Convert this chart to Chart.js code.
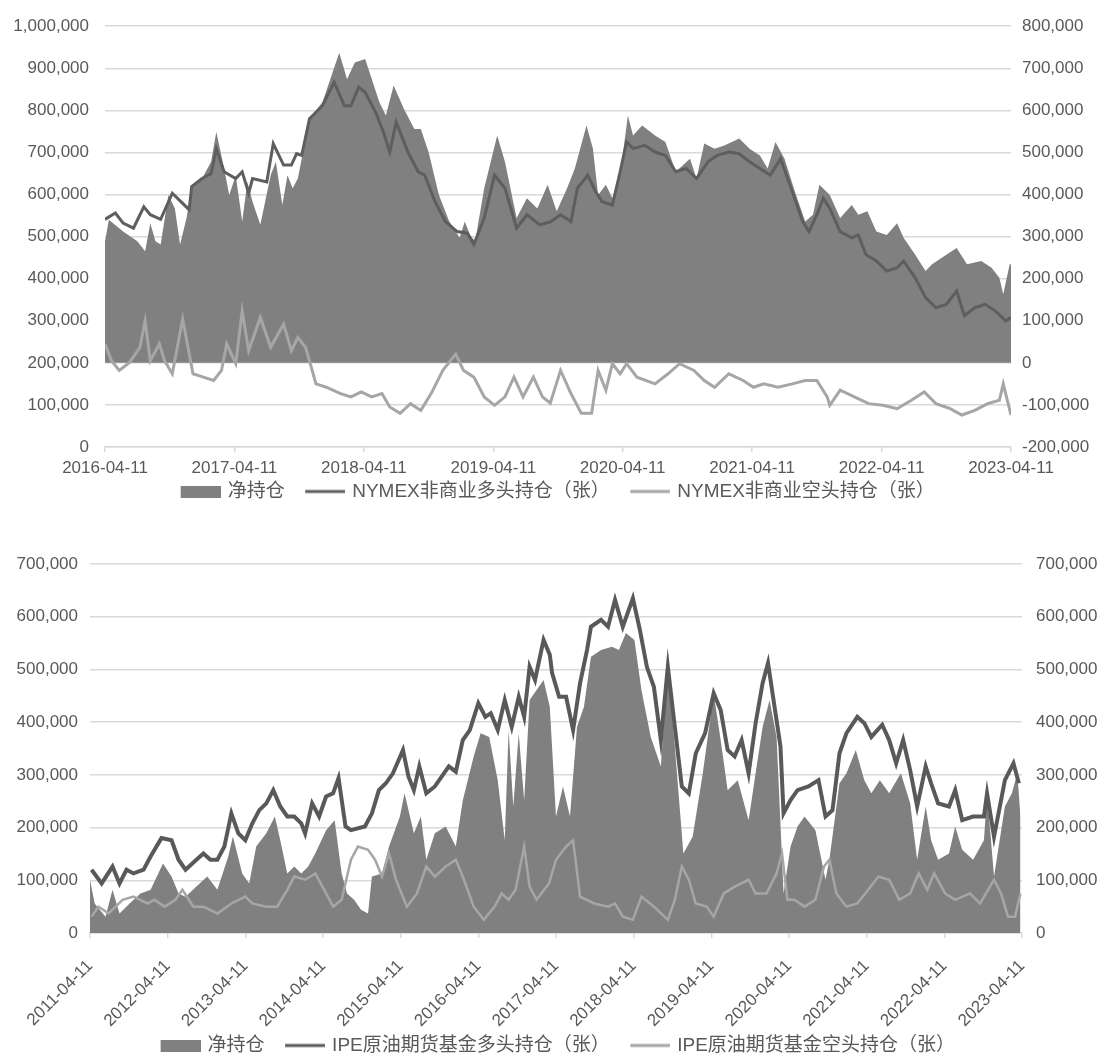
<!DOCTYPE html>
<html>
<head>
<meta charset="utf-8">
<script src="https://cdn.jsdelivr.net/npm/chart.js@4.4.1/dist/chart.umd.min.js"></script>
<style>
  html, body { margin: 0; padding: 0; background: #ffffff; }
  #wrap { position: relative; width: 1099px; height: 1061px; overflow: hidden; }
  canvas { position: absolute; left: 0; }
  #nymex { top: 0; }
  #ipe { top: 535px; }
</style>
</head>
<body>
<div id="wrap">
  <canvas id="nymex" width="1099" height="516" style="width:1099px;height:516px"></canvas>
  <canvas id="ipe" width="1099" height="533" style="width:1099px;height:533px"></canvas>
</div>
<script>
// ---------- NYMEX: x = years since 2016-04-11, y = contracts ----------
const nymexTicks = ['2016-04-11', '2017-04-11', '2018-04-11', '2019-04-11',
                    '2020-04-11', '2021-04-11', '2022-04-11', '2023-04-11'];

const nymexNet = [
  [0,289000],[0.03,340000],[0.14,312000],[0.25,289000],[0.31,265000],[0.35,332000],[0.39,289000],
  [0.43,281000],[0.49,399000],[0.54,367000],[0.58,281000],[0.63,344000],[0.67,415000],[0.75,438000],
  [0.82,478000],[0.86,549000],[0.92,462000],[0.96,399000],[1.01,446000],[1.06,336000],[1.10,430000],
  [1.14,383000],[1.20,328000],[1.28,446000],[1.32,478000],[1.37,375000],[1.41,446000],[1.45,415000],
  [1.49,438000],[1.58,580000],[1.68,619000],[1.81,737000],[1.87,674000],[1.93,714000],[2.01,722000],
  [2.12,619000],[2.17,588000],[2.23,659000],[2.31,603000],[2.39,556000],[2.44,556000],[2.50,501000],
  [2.58,399000],[2.66,336000],[2.74,297000],[2.78,336000],[2.82,304000],[2.86,289000],[2.93,415000],
  [3.03,540000],[3.09,478000],[3.18,344000],[3.26,391000],[3.34,367000],[3.42,423000],[3.49,360000],
  [3.57,415000],[3.63,462000],[3.72,564000],[3.77,509000],[3.81,399000],[3.87,423000],[3.92,391000],
  [3.98,446000],[4.04,588000],[4.08,540000],[4.15,564000],[4.25,540000],[4.33,525000],[4.41,454000],
  [4.52,485000],[4.57,438000],[4.63,521000],[4.71,509000],[4.79,517000],[4.90,533000],[4.98,509000],
  [5.06,493000],[5.12,462000],[5.18,525000],[5.25,485000],[5.33,407000],[5.41,336000],[5.47,352000],
  [5.52,423000],[5.60,399000],[5.68,344000],[5.77,375000],[5.82,352000],[5.89,360000],[5.96,312000],
  [6.04,304000],[6.12,332000],[6.17,297000],[6.26,257000],[6.34,218000],[6.39,234000],[6.50,257000],
  [6.58,273000],[6.66,234000],[6.77,242000],[6.85,226000],[6.91,202000],[6.94,163000],[6.99,234000],
  [7.00,234000]
];

const nymexLong = [
  [0,541000],[0.08,556000],[0.14,532000],[0.22,520000],[0.30,571000],[0.35,552000],[0.43,541000],
  [0.52,603000],[0.60,579000],[0.65,564000],[0.67,619000],[0.75,638000],[0.82,650000],[0.86,709000],
  [0.92,654000],[1.01,638000],[1.06,654000],[1.11,603000],[1.14,638000],[1.25,630000],[1.30,721000],
  [1.38,670000],[1.44,670000],[1.48,697000],[1.52,693000],[1.58,780000],[1.68,811000],[1.77,867000],
  [1.85,811000],[1.90,811000],[1.96,855000],[2.01,843000],[2.09,796000],[2.15,749000],[2.20,701000],
  [2.25,772000],[2.34,701000],[2.42,654000],[2.47,646000],[2.55,583000],[2.63,536000],[2.72,512000],
  [2.80,508000],[2.85,481000],[2.93,544000],[3.01,646000],[3.09,615000],[3.18,520000],[3.26,552000],
  [3.36,528000],[3.44,535000],[3.52,552000],[3.60,536000],[3.65,615000],[3.73,646000],[3.79,607000],
  [3.84,583000],[3.92,575000],[3.98,654000],[4.03,725000],[4.08,709000],[4.17,717000],[4.25,701000],
  [4.33,693000],[4.41,654000],[4.49,662000],[4.57,638000],[4.66,678000],[4.73,693000],[4.82,701000],
  [4.90,697000],[4.98,678000],[5.06,662000],[5.14,646000],[5.22,685000],[5.31,607000],[5.39,536000],
  [5.44,512000],[5.50,552000],[5.55,591000],[5.60,567000],[5.68,512000],[5.77,497000],[5.82,504000],
  [5.88,457000],[5.96,442000],[6.04,418000],[6.12,426000],[6.17,442000],[6.26,402000],[6.34,355000],
  [6.42,331000],[6.50,339000],[6.58,371000],[6.64,312000],[6.72,331000],[6.80,339000],[6.88,323000],
  [6.96,300000],[7.00,308000]
];

const nymexShort = [
  [0,245000],[0.05,205000],[0.11,182000],[0.19,201000],[0.27,237000],[0.31,300000],[0.35,205000],
  [0.42,245000],[0.46,205000],[0.52,174000],[0.60,304000],[0.68,174000],[0.76,166000],[0.84,158000],
  [0.90,182000],[0.94,245000],[1.01,198000],[1.06,323000],[1.11,229000],[1.20,308000],[1.28,237000],
  [1.38,292000],[1.44,229000],[1.49,260000],[1.55,237000],[1.63,150000],[1.71,142000],[1.82,127000],
  [1.90,119000],[1.98,131000],[2.06,119000],[2.14,127000],[2.20,95000],[2.28,80000],[2.36,103000],
  [2.44,87000],[2.52,127000],[2.61,182000],[2.71,221000],[2.77,182000],[2.85,166000],[2.93,119000],
  [3.01,99000],[3.09,119000],[3.16,166000],[3.23,119000],[3.31,166000],[3.38,119000],[3.44,104000],
  [3.52,182000],[3.60,127000],[3.68,80000],[3.76,80000],[3.81,182000],[3.87,135000],[3.92,198000],
  [3.98,174000],[4.03,198000],[4.11,166000],[4.25,150000],[4.35,174000],[4.44,198000],[4.55,182000],
  [4.63,158000],[4.71,142000],[4.82,174000],[4.93,158000],[5.01,142000],[5.09,150000],[5.20,142000],
  [5.31,150000],[5.41,158000],[5.50,158000],[5.58,119000],[5.60,99000],[5.68,135000],[5.79,119000],
  [5.90,103000],[6.01,99000],[6.12,91000],[6.23,111000],[6.33,131000],[6.42,103000],[6.53,91000],
  [6.62,76000],[6.72,87000],[6.82,103000],[6.91,111000],[6.94,150000],[7.00,76000]
];

// ---------- IPE: x = years since 2011-04-11, y = contracts ----------
const ipeTicks = ['2011-04-11', '2012-04-11', '2013-04-11', '2014-04-11', '2015-04-11',
                  '2016-04-11', '2017-04-11', '2018-04-11', '2019-04-11', '2020-04-11',
                  '2021-04-11', '2022-04-11', '2023-04-11'];

const ipeNet = [
  [0,101000],[0.06,56000],[0.20,31000],[0.29,82000],[0.38,37000],[0.51,56000],[0.65,75000],
  [0.78,82000],[0.94,132000],[1.05,107000],[1.14,75000],[1.23,69000],[1.37,88000],[1.51,107000],
  [1.64,82000],[1.78,145000],[1.84,183000],[1.96,113000],[2.05,94000],[2.14,164000],[2.27,189000],
  [2.38,221000],[2.45,176000],[2.54,113000],[2.63,126000],[2.72,113000],[2.81,126000],[2.90,151000],
  [3.04,195000],[3.15,214000],[3.24,113000],[3.31,75000],[3.40,63000],[3.49,44000],[3.58,37000],
  [3.63,107000],[3.76,113000],[3.85,164000],[3.99,221000],[4.05,265000],[4.17,189000],[4.26,221000],
  [4.33,139000],[4.44,189000],[4.58,202000],[4.71,164000],[4.80,252000],[4.94,335000],[5.03,379000],
  [5.14,372000],[5.25,290000],[5.34,176000],[5.39,385000],[5.45,240000],[5.52,379000],[5.59,252000],
  [5.66,442000],[5.75,461000],[5.84,480000],[5.92,429000],[6.00,221000],[6.09,278000],[6.18,221000],
  [6.27,391000],[6.36,429000],[6.45,524000],[6.58,537000],[6.72,543000],[6.81,537000],[6.90,569000],
  [7.01,556000],[7.10,461000],[7.22,372000],[7.35,316000],[7.44,505000],[7.53,354000],[7.64,151000],
  [7.76,183000],[7.89,303000],[8.03,455000],[8.12,366000],[8.21,271000],[8.34,290000],[8.48,214000],
  [8.57,303000],[8.66,391000],[8.75,442000],[8.84,372000],[8.93,75000],[9.02,164000],[9.11,202000],
  [9.20,221000],[9.34,195000],[9.47,101000],[9.52,139000],[9.65,284000],[9.74,303000],[9.86,347000],
  [9.97,290000],[10.06,265000],[10.17,290000],[10.29,265000],[10.44,303000],[10.56,246000],
  [10.65,139000],[10.76,240000],[10.83,176000],[10.92,139000],[11.06,151000],[11.14,202000],
  [11.23,158000],[11.37,139000],[11.51,176000],[11.55,265000],[11.64,107000],[11.78,240000],
  [11.87,265000],[11.94,303000],[11.98,221000]
];

const ipeLong = [
  [0.02,120000],[0.15,94000],[0.29,126000],[0.38,94000],[0.47,120000],[0.56,113000],[0.69,120000],
  [0.78,145000],[0.92,180000],[1.05,176000],[1.14,139000],[1.23,120000],[1.37,139000],[1.46,151000],
  [1.55,139000],[1.64,139000],[1.73,164000],[1.82,227000],[1.91,189000],[2.00,176000],[2.09,208000],
  [2.18,233000],[2.27,246000],[2.36,271000],[2.45,240000],[2.54,221000],[2.63,221000],[2.72,208000],
  [2.77,189000],[2.86,246000],[2.95,221000],[3.04,259000],[3.13,265000],[3.20,294000],[3.29,202000],
  [3.36,195000],[3.54,202000],[3.63,227000],[3.72,271000],[3.81,284000],[3.90,303000],[4.03,347000],
  [4.10,297000],[4.17,271000],[4.24,316000],[4.33,265000],[4.44,278000],[4.53,297000],[4.62,316000],
  [4.71,306000],[4.80,366000],[4.89,385000],[5.00,436000],[5.09,410000],[5.16,417000],[5.25,385000],
  [5.34,442000],[5.43,391000],[5.52,448000],[5.59,410000],[5.66,505000],[5.73,480000],[5.84,556000],
  [5.92,528000],[5.95,493000],[6.04,448000],[6.13,448000],[6.22,385000],[6.31,474000],[6.40,537000],
  [6.45,581000],[6.58,594000],[6.67,581000],[6.76,632000],[6.86,581000],[6.99,635000],[7.08,575000],
  [7.17,505000],[7.26,467000],[7.35,366000],[7.44,505000],[7.53,391000],[7.62,278000],[7.71,265000],
  [7.80,341000],[7.92,379000],[8.03,455000],[8.12,423000],[8.21,347000],[8.30,335000],[8.39,366000],
  [8.48,303000],[8.57,398000],[8.66,474000],[8.73,512000],[8.82,423000],[8.89,354000],[8.93,227000],
  [9.02,252000],[9.11,271000],[9.25,278000],[9.38,290000],[9.47,221000],[9.56,233000],[9.65,341000],
  [9.74,379000],[9.88,410000],[9.97,398000],[10.06,372000],[10.20,395000],[10.29,366000],
  [10.38,322000],[10.47,366000],[10.56,309000],[10.65,240000],[10.76,316000],[10.83,284000],
  [10.92,246000],[11.06,240000],[11.14,271000],[11.23,214000],[11.37,221000],[11.51,221000],
  [11.55,265000],[11.64,183000],[11.78,290000],[11.89,322000],[11.96,284000]
];

const ipeShort = [
  [0.02,31000],[0.11,50000],[0.24,37000],[0.42,63000],[0.56,69000],[0.74,56000],[0.83,63000],
  [0.96,50000],[1.10,63000],[1.19,82000],[1.33,50000],[1.46,50000],[1.64,37000],[1.82,56000],
  [2.00,69000],[2.09,56000],[2.27,50000],[2.41,50000],[2.54,82000],[2.63,107000],[2.77,101000],
  [2.90,113000],[3.04,75000],[3.13,50000],[3.24,63000],[3.36,139000],[3.45,164000],[3.58,158000],
  [3.67,139000],[3.76,107000],[3.85,151000],[3.94,101000],[4.08,50000],[4.21,75000],[4.33,126000],
  [4.44,107000],[4.58,126000],[4.71,139000],[4.80,107000],[4.94,50000],[5.07,25000],[5.21,50000],
  [5.30,75000],[5.39,63000],[5.48,82000],[5.59,164000],[5.66,88000],[5.75,63000],[5.91,94000],
  [6.00,139000],[6.13,164000],[6.22,176000],[6.31,69000],[6.49,56000],[6.67,50000],[6.76,56000],
  [6.86,31000],[6.99,25000],[7.10,69000],[7.26,50000],[7.44,25000],[7.53,63000],[7.62,126000],
  [7.71,101000],[7.80,56000],[7.94,50000],[8.03,31000],[8.16,75000],[8.30,88000],[8.48,101000],
  [8.57,75000],[8.71,75000],[8.84,113000],[8.91,151000],[8.98,63000],[9.07,63000],[9.20,50000],
  [9.34,63000],[9.45,126000],[9.52,139000],[9.61,75000],[9.74,50000],[9.88,56000],[10.02,82000],
  [10.15,107000],[10.29,101000],[10.42,63000],[10.56,75000],[10.67,113000],[10.78,82000],
  [10.87,113000],[11.01,75000],[11.14,63000],[11.33,75000],[11.46,56000],[11.64,101000],
  [11.73,75000],[11.82,31000],[11.91,31000],[11.98,75000]
];

// ---------- shared styling ----------
const TEXT = '#595959';
const GRID = '#d9d9d9';
const AREA = '#808080';
const SHORT = '#a6a6a6';
const LEGEND_FONT = 19;

Chart.defaults.font.family = '"Liberation Sans", "Noto Sans CJK SC", sans-serif';
Chart.defaults.font.size = 17;
Chart.defaults.color = TEXT;

const thousands = v => Number(v).toLocaleString('en-US');

// Legend key sprite: 40px key drawn at the right end, with blank lead-in on the
// left so the entries are spaced apart while the row stays compact vertically.
const KEY_SLOT = 54;                       // pointStyleWidth given to the legend
const KEY_IMG_W = KEY_SLOT + LEGEND_FONT / 2 - 5;
function legendKey(color, kind) {
  const c = document.createElement('canvas');
  c.width = Math.round(KEY_IMG_W);
  c.height = 12;
  const g = c.getContext('2d');
  g.fillStyle = color;
  if (kind === 'area') {
    g.fillRect(c.width - 40, 0, 40, 12);
  } else {
    g.fillRect(c.width - 40, 4.5, 40, 3);
  }
  return c;
}

function legendEntries(chart) {
  return chart.data.datasets.map((ds, i) => {
    const isArea = i === 0;
    const c = isArea ? ds.backgroundColor : ds.borderColor;
    return {
      text: ds.label,
      datasetIndex: i,
      fillStyle: c,
      strokeStyle: c,
      lineWidth: 0,
      pointStyle: legendKey(c, isArea ? 'area' : 'line'),
      fontColor: TEXT,
      hidden: false
    };
  });
}

function legendOptions() {
  return {
    position: 'bottom',
    labels: {
      usePointStyle: true,
      pointStyleWidth: KEY_SLOT,
      boxHeight: 12,
      padding: 4,
      color: TEXT,
      font: { size: LEGEND_FONT },
      generateLabels: legendEntries
    }
  };
}

function yearAxis(maxYear, labels, rotation, height, pad) {
  return {
    type: 'linear',
    min: 0,
    max: maxYear,
    ticks: {
      stepSize: 1,
      autoSkip: false,
      minRotation: rotation,
      maxRotation: rotation,
      padding: pad,
      color: TEXT,
      callback: v => labels[Math.round(v)] ?? ''
    },
    grid: { drawOnChartArea: false, drawTicks: true, tickLength: 5, color: GRID, lineWidth: 1.5 },
    border: { display: true, color: GRID, width: 1.5 },
    afterFit: s => { s.height = height; }
  };
}

function valueAxis(position, min, max, padding, width, drawGrid) {
  return {
    position,
    min,
    max,
    ticks: { stepSize: 100000, padding, color: TEXT, callback: thousands },
    grid: { drawOnChartArea: drawGrid, drawTicks: false, color: GRID, lineWidth: 1.5 },
    border: { display: false },
    afterFit: s => { s.width = width; }
  };
}

function lineSet(label, data, color, width, axis, order) {
  return {
    label, data, yAxisID: axis, order,
    borderColor: color, backgroundColor: color, borderWidth: width,
    pointRadius: 0, tension: 0, fill: false
  };
}

function areaSet(label, data, axis) {
  return {
    label, data, yAxisID: axis, order: 3,
    backgroundColor: AREA, borderColor: AREA, borderWidth: 0,
    pointRadius: 0, tension: 0, fill: 'origin'
  };
}

const common = {
  responsive: false,
  devicePixelRatio: 1,
  animation: false,
  events: []
};

// ---------- NYMEX chart ----------
new Chart(document.getElementById('nymex'), {
  type: 'line',
  data: {
    datasets: [
      areaSet('净持仓', nymexNet, 'yR'),
      lineSet('NYMEX非商业多头持仓（张）', nymexLong, '#5e5e5e', 3, 'y', 1),
      lineSet('NYMEX非商业空头持仓（张）', nymexShort, SHORT, 3, 'y', 2)
    ]
  },
  options: {
    ...common,
    layout: { padding: { top: 23, bottom: 5, left: 0, right: 0 } },
    plugins: { legend: legendOptions(), tooltip: { enabled: false } },
    scales: {
      x: yearAxis(7, nymexTicks, 0, 31, 6),
      y: valueAxis('left', 0, 1000000, 16, 105, true),
      yR: valueAxis('right', -200000, 800000, 11, 88, false)
    }
  }
});

// ---------- IPE chart ----------
new Chart(document.getElementById('ipe'), {
  type: 'line',
  data: {
    datasets: [
      areaSet('净持仓', ipeNet, 'y'),
      lineSet('IPE原油期货基金多头持仓（张）', ipeLong, '#595959', 4, 'y', 1),
      lineSet('IPE原油期货基金空头持仓（张）', ipeShort, SHORT, 2.5, 'y', 2)
    ]
  },
  options: {
    ...common,
    layout: { padding: { top: 29, bottom: 3, left: 0, right: 0 } },
    plugins: { legend: legendOptions(), tooltip: { enabled: false } },
    scales: {
      x: yearAxis(12, ipeTicks, 45, 99, 18),
      y: valueAxis('left', 0, 700000, 12, 90, true),
      y1: valueAxis('right', 0, 700000, 14, 77, false)
    }
  }
});
</script>
</body>
</html>
